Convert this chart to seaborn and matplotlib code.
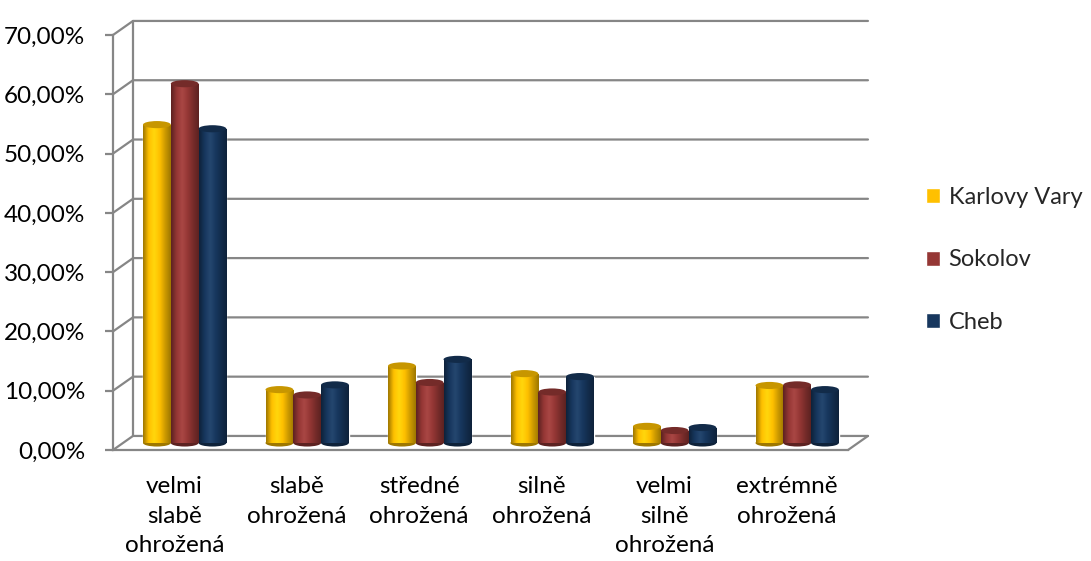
import numpy as np
import pandas as pd
import matplotlib
matplotlib.use("Agg")
import matplotlib.pyplot as plt
from matplotlib.colors import LinearSegmentedColormap, to_rgb
from matplotlib.patches import Ellipse
from matplotlib.ticker import FuncFormatter
import seaborn as sns

# --- data ---
categories = ["velmi\nslabě\nohrožená", "slabě\nohrožená", "středné\nohrožená",
              "silně\nohrožená", "velmi\nsilně\nohrožená", "extrémně\nohrožená"]
series = ["Karlovy Vary", "Sokolov", "Cheb"]
karlovy_vary = [0.537, 0.090, 0.130, 0.117, 0.028, 0.097]
sokolov = [0.606, 0.081, 0.102, 0.086, 0.021, 0.098]
cheb = [0.530, 0.098, 0.141, 0.112, 0.026, 0.090]
colors = ["#FFC000", "#953735", "#17375E"]
y_ticks = [0.0, 0.1, 0.2, 0.3, 0.4, 0.5, 0.6, 0.7]

df = pd.DataFrame({
    "kategorie": categories * 3,
    "okres": [s for s in series for _ in categories],
    "podil": karlovy_vary + sokolov + cheb,
})

sns.set_theme(style="white")
plt.rcParams["font.family"] = ["Lato", "DejaVu Sans"]
FS = 17.5

W, H = 1091, 561
fig = plt.figure(figsize=(W / 100, H / 100), dpi=100)
ax = fig.add_axes([113 / W, (H - 450) / H, 735 / W, 415 / H])

sns.barplot(data=df, x="kategorie", y="podil", hue="okres", order=categories,
            hue_order=series, palette=colors, width=0.68, gap=0.0,
            saturation=1, ax=ax, legend=True)

ax.set_xlim(-0.5, 5.5)
ax.set_ylim(0, 0.7)

grid_c = "#868686"
# 3D offset of the back wall (data units)
dx, dy = 0.163, 0.0237
for v in y_ticks:
    ax.plot([-0.5, -0.5 + dx, 5.5 + dx], [v, v + dy, v + dy], color=grid_c,
            lw=1.6, clip_on=False, zorder=0.5)
ax.plot([-0.5 + dx, -0.5 + dx], [dy, 0.7 + dy], color=grid_c, lw=1.6,
        clip_on=False, zorder=0.5)
ax.plot([5.5, 5.5 + dx], [0, dy], color=grid_c, lw=1.6, clip_on=False, zorder=0.5)

# cylinder look: move bars to the middle depth, add shading and elliptical caps
shift_x, shift_y = 0.085, dy / 2
for patch, col in zip(ax.patches, [c for c in colors for _ in categories]):
    x0, w, h = patch.get_x() + shift_x, patch.get_width(), patch.get_height()
    patch.set_x(x0)
    patch.set_y(shift_y)
    base = np.array(to_rgb(col))
    dark = base * 0.62
    light = np.clip(base * 1.05 + 0.05, 0, 1)
    cmap = LinearSegmentedColormap.from_list(
        "cyl", [dark, base, light, base, base * 0.8, dark])
    grad = np.linspace(0, 1, 64).reshape(1, -1)
    im = ax.imshow(grad, extent=[x0, x0 + w, shift_y, shift_y + h], aspect="auto",
                   cmap=cmap, zorder=2, interpolation="bicubic")
    im.set_clip_path(patch)
    eh = 0.012
    ax.add_patch(Ellipse((x0 + w / 2, shift_y), w, eh, facecolor=dark,
                         edgecolor="none", zorder=1.9))
    ax.add_patch(Ellipse((x0 + w / 2, shift_y + h), w, eh, facecolor=base * 0.78,
                         edgecolor="none", zorder=3))

ax.set_xlim(-0.5, 5.5)
ax.set_ylim(0, 0.7)

for s in ["top", "right"]:
    ax.spines[s].set_visible(False)
for s in ["left", "bottom"]:
    ax.spines[s].set_color(grid_c)
    ax.spines[s].set_linewidth(1.6)

ax.set_yticks(y_ticks)
ax.yaxis.set_major_formatter(FuncFormatter(lambda v, p: f"{v * 100:.2f}%".replace(".", ",")))
ax.set_xticks(range(len(categories)))
ax.set_xticklabels(categories, linespacing=1.5)
ax.set_xticks(np.arange(-0.5, 6, 1), minor=True)
ax.tick_params(axis="x", which="major", length=0, pad=19, labelsize=FS, labelcolor="#000000")
ax.tick_params(axis="x", which="minor", length=6, width=1.6, color=grid_c, direction="out")
ax.tick_params(axis="y", length=6, width=1.6, color=grid_c, direction="out",
               labelsize=FS, pad=14, left=True, labelcolor="#000000")
ax.set_xlabel("")
ax.set_ylabel("")

handles, labels = ax.get_legend_handles_labels()
ax.legend(handles, labels, loc="center left", bbox_to_anchor=(905 / W, 1 - 260 / H),
          bbox_transform=fig.transFigure, frameon=False, fontsize=17,
          handlelength=0.6, handleheight=0.6, handletextpad=0.35, labelspacing=1.75)

fig.savefig("out.png", dpi=100)
